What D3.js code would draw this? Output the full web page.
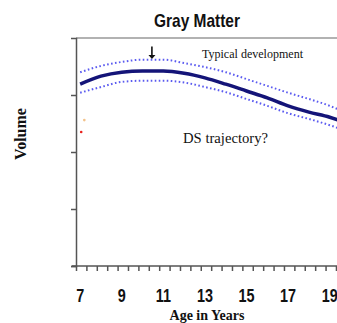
<!DOCTYPE html>
<html>
<head>
<meta charset="utf-8">
<script src="https://cdn.jsdelivr.net/npm/d3@7"></script>
<style>
body { margin: 0; background: #fff; }
svg { display: block; }
</style>
</head>
<body>
<div id="root"></div>
<script>
// ages in years
var ages = [7, 8, 9, 10, 11, 12, 13, 14, 15, 16, 17, 18, 19, 19.4];
// typical development, mean and band (arbitrary volume units)
var meanVol = [3.19, 3.33, 3.40, 3.42, 3.42, 3.38, 3.30, 3.19, 3.07, 2.95, 2.81, 2.70, 2.61, 2.56];
var upperVol = [3.40, 3.51, 3.58, 3.62, 3.62, 3.56, 3.49, 3.40, 3.28, 3.16, 3.04, 2.93, 2.81, 2.75];
var lowerVol = [3.04, 3.14, 3.23, 3.25, 3.25, 3.22, 3.14, 3.05, 2.93, 2.81, 2.68, 2.58, 2.47, 2.42];
var xLabels = [7, 9, 11, 13, 15, 17, 19];
var yTicks = [1, 2, 3];
var peakAge = 10.45;
// faint DS start marks
var dsAges = [7.05, 7.2];
var dsVol = [2.35, 2.56];
var dsColors = ["#e8201c", "#f3c28a"];

var w = 337, h = 323;
var margin = {top: 38, right: 0, bottom: 57, left: 76};

var svg = d3.select("#root").append("svg")
    .attr("width", w)
    .attr("height", h);

var x = d3.scaleLinear().domain([6.8, 19.35]).range([margin.left, w - margin.right]);
var y = d3.scaleLinear().domain([0, 4]).range([h - margin.bottom, margin.top]);

// title
svg.append("text")
    .attr("x", 197).attr("y", 27)
    .attr("text-anchor", "middle")
    .attr("font-family", "Liberation Sans, Arial, sans-serif")
    .attr("font-weight", "bold")
    .attr("font-size", "19px")
    .attr("textLength", 86)
    .attr("lengthAdjust", "spacingAndGlyphs")
    .attr("fill", "#111")
    .text("Gray Matter");

// top border
svg.append("line")
    .attr("x1", x(6.8)).attr("x2", w)
    .attr("y1", y(4)).attr("y2", y(4))
    .attr("stroke", "#999").attr("stroke-width", 1.5);

// y axis
var yAxis = d3.axisLeft(y).tickValues(yTicks.concat([0])).tickSize(5).tickFormat("");
var gy = svg.append("g")
    .attr("transform", "translate(" + margin.left + ",0)")
    .call(yAxis);
gy.selectAll("path, line").attr("stroke", "#555").attr("stroke-width", 1.5);

// x axis with half-year ticks
var minorTicks = d3.range(6.8, 19.4, 0.5);
var xAxis = d3.axisBottom(x).tickValues(minorTicks).tickSize(5).tickSizeOuter(0).tickFormat("");
var gx = svg.append("g")
    .attr("transform", "translate(0," + y(0) + ")")
    .call(xAxis);
gx.selectAll("path, line").attr("stroke", "#555").attr("stroke-width", 1.5);
gx.select("path").attr("d", "M" + (margin.left - 4) + ",0H" + w);

// x labels
svg.selectAll("text.xl")
    .data(xLabels)
    .enter()
    .append("text")
    .attr("class", "xl")
    .attr("transform", function(d) { return "translate(" + x(d) + ",302) scale(0.8,1)"; })
    .attr("text-anchor", "middle")
    .attr("font-family", "Liberation Sans, Arial, sans-serif")
    .attr("font-weight", "bold")
    .attr("font-size", "18px")
    .attr("fill", "#111")
    .text(function(d) { return d; });

// axis titles
svg.append("text")
    .attr("x", 207).attr("y", 320)
    .attr("text-anchor", "middle")
    .attr("font-family", "Liberation Serif, Times New Roman, serif")
    .attr("font-weight", "bold")
    .attr("font-size", "14px")
    .attr("fill", "#111")
    .text("Age in Years");

svg.append("text")
    .attr("transform", "translate(26,134) rotate(-90)")
    .attr("text-anchor", "middle")
    .attr("font-family", "Liberation Serif, Times New Roman, serif")
    .attr("font-weight", "bold")
    .attr("font-size", "16px")
    .attr("fill", "#111")
    .text("Volume");

// curves
var line = d3.line()
    .x(function(d) { return x(d[0]); })
    .y(function(d) { return y(d[1]); })
    .curve(d3.curveMonotoneX);

var plot = svg.append("g");

[upperVol, lowerVol].forEach(function(v) {
    plot.append("path")
        .attr("d", line(d3.zip(ages, v)))
        .attr("fill", "none")
        .attr("stroke", "#5b5bf0")
        .attr("stroke-width", 2)
        .attr("stroke-dasharray", "1.6,2.4");
});

plot.append("path")
    .attr("d", line(d3.zip(ages, meanVol)))
    .attr("fill", "none")
    .attr("stroke", "#141478")
    .attr("stroke-width", 3.5);

// DS marks
plot.selectAll("circle.ds")
    .data(d3.zip(dsAges, dsVol, dsColors))
    .enter()
    .append("circle")
    .attr("cx", function(d) { return x(d[0]); })
    .attr("cy", function(d) { return y(d[1]); })
    .attr("r", 1.3)
    .attr("fill", function(d) { return d[2]; });

// arrow to the peak
var ax = x(peakAge);
svg.append("line")
    .attr("x1", ax).attr("x2", ax)
    .attr("y1", y(3.85)).attr("y2", y(3.68))
    .attr("stroke", "#111").attr("stroke-width", 1.6);
svg.append("path")
    .attr("d", "M" + (ax - 3.5) + "," + y(3.7) + "L" + (ax + 3.5) + "," + y(3.7) + "L" + ax + "," + y(3.63) + "Z")
    .attr("fill", "#111");

// annotations
svg.append("text")
    .attr("x", 202).attr("y", 58)
    .attr("font-family", "Liberation Serif, Times New Roman, serif")
    .attr("font-size", "13px")
    .attr("textLength", 101)
    .attr("lengthAdjust", "spacingAndGlyphs")
    .attr("fill", "#111")
    .text("Typical development");

svg.append("text")
    .attr("x", 183).attr("y", 143)
    .attr("font-family", "Liberation Serif, Times New Roman, serif")
    .attr("font-size", "15px")
    .attr("textLength", 85)
    .attr("lengthAdjust", "spacingAndGlyphs")
    .attr("fill", "#111")
    .text("DS trajectory?");
</script>
</body>
</html>
